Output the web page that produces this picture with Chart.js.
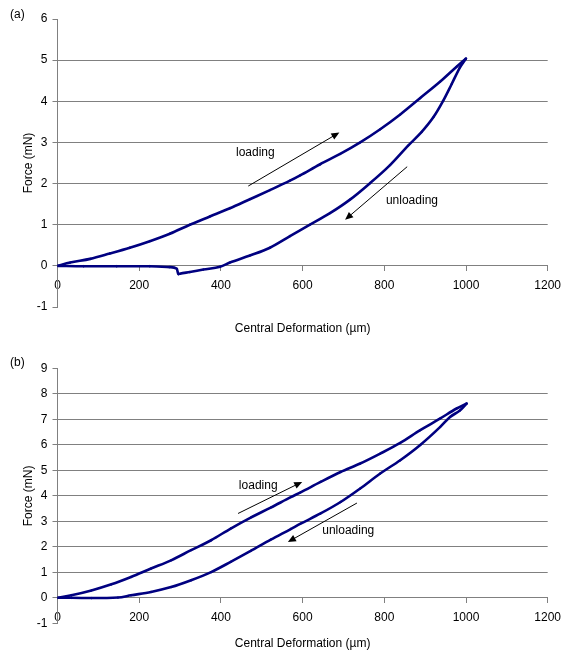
<!DOCTYPE html>
<html>
<head>
<meta charset="utf-8">
<script src="https://cdn.jsdelivr.net/npm/chart.js@4.4.1/dist/chart.umd.min.js"></script>
<style>
  html, body { margin: 0; padding: 0; background: #fff; }
  .box { position: absolute; left: 0; width: 571px; }
  #boxA { top: 0; height: 340px; }
  #boxB { top: 340px; height: 315px; }
</style>
</head>
<body>
<div class="box" id="boxA"><canvas id="chartA"></canvas></div>
<div class="box" id="boxB"><canvas id="chartB"></canvas></div>
<script>
// values (x in um, force in mN)
const xTicks = [0, 200, 400, 600, 800, 1000, 1200];

// (a)
const loadAx = [0, 31, 80, 128, 177, 226, 275, 324, 373, 422, 471, 520, 569, 594, 643, 692, 741, 790, 839, 888, 937, 977, 1000];
const loadAy = [0, 0.08, 0.17, 0.30, 0.44, 0.60, 0.78, 1.00, 1.20, 1.40, 1.62, 1.84, 2.07, 2.20, 2.47, 2.72, 3.00, 3.32, 3.68, 4.08, 4.48, 4.84, 5.04];
const unloadAx = [1000, 985, 965, 944, 920, 891, 859, 814, 765, 716, 667, 618, 569, 520, 471, 422, 398, 357, 324, 300, 296, 292, 275, 226, 145, 64, 0];
const unloadAy = [5.04, 4.82, 4.42, 4.01, 3.61, 3.25, 2.93, 2.45, 2.01, 1.61, 1.28, 1.00, 0.72, 0.44, 0.25, 0.08, -0.02, -0.09, -0.15, -0.19, -0.20, -0.07, -0.03, -0.01, -0.01, -0.01, 0];

// (b)
const loadBx = [0, 34, 83, 132, 180, 229, 278, 327, 376, 424, 473, 522, 571, 595, 644, 693, 741, 790, 839, 888, 937, 977, 1002];
const loadBy = [0, 0.10, 0.29, 0.53, 0.82, 1.15, 1.47, 1.87, 2.26, 2.72, 3.15, 3.54, 3.95, 4.14, 4.55, 4.94, 5.27, 5.66, 6.08, 6.58, 7.04, 7.43, 7.63];
const unloadBx = [1002, 985, 961, 937, 888, 839, 790, 741, 693, 644, 595, 571, 522, 473, 424, 376, 327, 278, 229, 180, 148, 83, 34, 0];
const unloadBy = [7.63, 7.35, 7.10, 6.71, 6.00, 5.40, 4.88, 4.29, 3.76, 3.31, 2.91, 2.70, 2.28, 1.84, 1.41, 1.01, 0.69, 0.42, 0.23, 0.10, 0.01, -0.01, 0, 0];

// annotation arrows [x0, y0, x1, y1] (head at x1,y1) and labels, in data units
const arrowsA = [[467, 1.94, 690, 3.24], [856, 2.41, 704, 1.12]];
const notesA = [{text: 'loading', x: 437, y: 2.74}, {text: 'unloading', x: 804, y: 1.58}];
const arrowsB = [[442, 3.31, 599, 4.55], [733, 3.72, 564, 2.19]];
const notesB = [{text: 'loading', x: 444, y: 4.42}, {text: 'unloading', x: 648, y: 2.65}];

const NAVY = '#000080';
const AXIS = '#808080';
const FONT = {family: '"Liberation Sans", Arial, sans-serif', size: 12};
Chart.defaults.font.family = FONT.family;
Chart.defaults.font.size = 12;
Chart.defaults.color = '#000';

function pts(xs, ys){ return xs.map((x, i) => ({x, y: ys[i]})); }

function arrow(ctx, x0, y0, x1, y1){
  const a = Math.atan2(y1 - y0, x1 - x0), L = 8, W = 3.5;
  ctx.beginPath(); ctx.moveTo(x0, y0);
  ctx.lineTo(x1 - Math.cos(a) * L * 0.8, y1 - Math.sin(a) * L * 0.8); ctx.stroke();
  ctx.beginPath();
  ctx.moveTo(x1, y1);
  ctx.lineTo(x1 - L * Math.cos(a) + W * Math.sin(a), y1 - L * Math.sin(a) - W * Math.cos(a));
  ctx.lineTo(x1 - L * Math.cos(a) - W * Math.sin(a), y1 - L * Math.sin(a) + W * Math.cos(a));
  ctx.closePath(); ctx.fill();
}

const notesPlugin = {
  id: 'notes',
  afterDatasetsDraw(chart, args, o){
    const {ctx, scales: {x, y}} = chart;
    ctx.save();
    ctx.fillStyle = '#000'; ctx.strokeStyle = '#000'; ctx.lineWidth = 1;
    ctx.font = '12px ' + FONT.family;
    o.arrows.forEach(a => arrow(ctx, x.getPixelForValue(a[0]), y.getPixelForValue(a[1]),
                                     x.getPixelForValue(a[2]), y.getPixelForValue(a[3])));
    ctx.textAlign = 'left'; ctx.textBaseline = 'middle';
    o.labels.forEach(l => ctx.fillText(l.text, x.getPixelForValue(l.x), y.getPixelForValue(l.y)));
    ctx.fillText(o.panel, 10, o.panelY);
    ctx.restore();
  }
};

function renderPanel(canvasId, c){
  const ctx = document.getElementById(canvasId).getContext('2d');
  return new Chart(ctx, {
    type: 'scatter',
    data: {
      datasets: [
        {label: 'loading', data: pts(c.lx, c.ly)},
        {label: 'unloading', data: pts(c.ux, c.uy)}
      ].map(d => Object.assign(d, {
        xAxisID: 'x', yAxisID: 'y', showLine: true,
        cubicInterpolationMode: 'monotone',
        borderColor: NAVY, backgroundColor: NAVY, borderWidth: 2.6,
        pointRadius: 1.4, pointStyle: 'rectRot', pointBorderWidth: 0
      }))
    },
    options: {
      responsive: true, maintainAspectRatio: false, animation: false,
      layout: {padding: {top: c.top, left: 17, right: 23.3, bottom: 0}},
      plugins: {
        legend: {display: false}, tooltip: {enabled: false},
        notes: {arrows: c.arrows, labels: c.notes, panel: c.panel, panelY: c.panelY}
      },
      scales: {
        x: {
          type: 'linear', min: 0, max: 1200, position: {y: 0},
          afterBuildTicks: s => { s.ticks = xTicks.map(v => ({value: v})); },
          ticks: {color: '#000', font: FONT, padding: 8, maxRotation: 0, callback: v => String(v)},
          grid: {drawOnChartArea: false, tickLength: 5, color: AXIS},
          border: {color: AXIS}
        },
        xt: {
          type: 'linear', min: 0, max: 1200, position: 'bottom',
          ticks: {display: false}, grid: {display: false}, border: {display: false},
          title: {display: true, text: 'Central Deformation (µm)', color: '#000', font: FONT, padding: {top: 0, bottom: 4}},
          afterFit: s => { s.height = c.bottomH; }
        },
        y: {
          min: c.yMin, max: c.yMax,
          ticks: {stepSize: 1, color: '#000', font: FONT, padding: 5, callback: v => String(v)},
          grid: {
            color: g => (g.tick && g.tick.value > 0 && g.tick.value < c.yMax) ? AXIS : 'rgba(0,0,0,0)',
            tickColor: AXIS, tickLength: 5
          },
          border: {color: AXIS},
          title: {display: true, text: 'Force (mN)', color: '#000', font: FONT, padding: {top: 4, bottom: 0}},
          afterFit: s => { s.width = 40.5; }
        }
      }
    },
    plugins: [notesPlugin]
  });
}

renderPanel('chartA', {
  lx: loadAx, ly: loadAy, ux: unloadAx, uy: unloadAy,
  yMin: -1, yMax: 6, top: 19, bottomH: 33,
  arrows: arrowsA, notes: notesA, panel: '(a)', panelY: 15
});
renderPanel('chartB', {
  lx: loadBx, ly: loadBy, ux: unloadBx, uy: unloadBy,
  yMin: -1, yMax: 9, top: 28.5, bottomH: 31.7,
  arrows: arrowsB, notes: notesB, panel: '(b)', panelY: 23
});
</script>
</body>
</html>
